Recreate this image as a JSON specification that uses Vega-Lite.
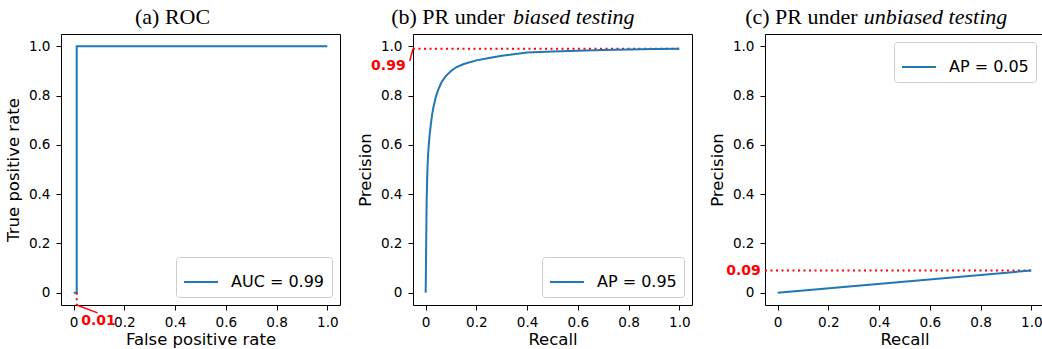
{
 "$schema": "https://vega.github.io/schema/vega-lite/v6.json",
 "padding": {"left": 4, "top": 5, "right": 0, "bottom": 0},
 "background": "white",
 "datasets": {
  "roc": [
   {"fpr": 0, "tpr": 0, "series": "AUC = 0.99"},
   {"fpr": 0.012, "tpr": 0, "series": "AUC = 0.99"},
   {"fpr": 0.012, "tpr": 1, "series": "AUC = 0.99"},
   {"fpr": 1, "tpr": 1, "series": "AUC = 0.99"}
  ],
  "prb": [
   {"recall": 0, "precision": 0, "series": "AP = 0.95"},
   {"recall": 0.001, "precision": 0.1, "series": "AP = 0.95"},
   {"recall": 0.002, "precision": 0.2, "series": "AP = 0.95"},
   {"recall": 0.003, "precision": 0.3, "series": "AP = 0.95"},
   {"recall": 0.004, "precision": 0.38, "series": "AP = 0.95"},
   {"recall": 0.006, "precision": 0.47, "series": "AP = 0.95"},
   {"recall": 0.008, "precision": 0.53, "series": "AP = 0.95"},
   {"recall": 0.01, "precision": 0.57, "series": "AP = 0.95"},
   {"recall": 0.013, "precision": 0.61, "series": "AP = 0.95"},
   {"recall": 0.016, "precision": 0.645, "series": "AP = 0.95"},
   {"recall": 0.02, "precision": 0.68, "series": "AP = 0.95"},
   {"recall": 0.025, "precision": 0.72, "series": "AP = 0.95"},
   {"recall": 0.03, "precision": 0.75, "series": "AP = 0.95"},
   {"recall": 0.04, "precision": 0.795, "series": "AP = 0.95"},
   {"recall": 0.05, "precision": 0.825, "series": "AP = 0.95"},
   {"recall": 0.063, "precision": 0.855, "series": "AP = 0.95"},
   {"recall": 0.08, "precision": 0.88, "series": "AP = 0.95"},
   {"recall": 0.1, "precision": 0.9, "series": "AP = 0.95"},
   {"recall": 0.12, "precision": 0.915, "series": "AP = 0.95"},
   {"recall": 0.15, "precision": 0.928, "series": "AP = 0.95"},
   {"recall": 0.2, "precision": 0.943, "series": "AP = 0.95"},
   {"recall": 0.25, "precision": 0.953, "series": "AP = 0.95"},
   {"recall": 0.3, "precision": 0.962, "series": "AP = 0.95"},
   {"recall": 0.4, "precision": 0.975, "series": "AP = 0.95"},
   {"recall": 0.5, "precision": 0.979, "series": "AP = 0.95"},
   {"recall": 0.6, "precision": 0.982, "series": "AP = 0.95"},
   {"recall": 0.7, "precision": 0.985, "series": "AP = 0.95"},
   {"recall": 0.8, "precision": 0.987, "series": "AP = 0.95"},
   {"recall": 0.9, "precision": 0.989, "series": "AP = 0.95"},
   {"recall": 1.0, "precision": 0.99, "series": "AP = 0.95"}
  ],
  "pru": [
   {"recall": 0, "precision": 0, "series": "AP = 0.05"},
   {"recall": 1, "precision": 0.09, "series": "AP = 0.05"}
  ]
 },
 "spacing": 73,
 "bounds": "flush",
 "resolve": {"scale": {"color": "independent"}, "legend": {"color": "independent"}},
 "hconcat": [
  {
   "width": 279, "height": 271,
   "layer": [
    {
     "data": {"name": "roc"},
     "mark": {"type": "line", "strokeWidth": 2},
     "encoding": {
      "x": {"field": "fpr", "type": "quantitative", "title": "False positive rate", "scale": {"domain": [-0.05, 1.05], "nice": false, "zero": false}, "axis": {"values": [0, 0.2, 0.4, 0.6, 0.8, 1], "labelExpr": "datum.value == 0 ? '0' : format(datum.value, '.1f')"}},
      "y": {"field": "tpr", "type": "quantitative", "title": "True positive rate", "scale": {"domain": [-0.05, 1.05], "nice": false, "zero": false}, "axis": {"values": [0, 0.2, 0.4, 0.6, 0.8, 1], "labelExpr": "datum.value == 0 ? '0' : format(datum.value, '.1f')"}},
      "color": {"field": "series", "type": "nominal", "scale": {"range": ["#1f77b4"]}, "legend": {"title": null, "orient": "bottom-right"}},
      "order": {"value": null}
     }
    },
    {
     "data": {"values": [{}]},
     "mark": {"type": "rule", "color": "#ff0000", "strokeWidth": 2, "strokeDash": [2, 3.5]},
     "encoding": {
      "x": {"datum": 0.012, "type": "quantitative", "title": "False positive rate", "scale": {"domain": [-0.05, 1.05], "nice": false, "zero": false}},
      "y": {"datum": 0, "type": "quantitative", "title": "True positive rate", "scale": {"domain": [-0.05, 1.05], "nice": false, "zero": false}},
      "y2": {"datum": -0.05}
     }
    },
    {
     "data": {"values": [{}]},
     "mark": {"type": "rule", "color": "#ff0000", "strokeWidth": 1.5},
     "encoding": {
      "x": {"datum": 0.012, "type": "quantitative", "title": "False positive rate", "scale": {"domain": [-0.05, 1.05], "nice": false, "zero": false}},
      "y": {"datum": -0.05, "type": "quantitative", "title": "True positive rate", "scale": {"domain": [-0.05, 1.05], "nice": false, "zero": false}},
      "x2": {"datum": 0.094},
      "y2": {"datum": -0.082}
     }
    },
    {
     "data": {"values": [{}]},
     "mark": {"type": "text", "text": "0.01", "color": "#ff0000", "font": "DejaVu Sans", "fontWeight": "bold", "fontSize": 14, "align": "left", "baseline": "middle"},
     "encoding": {
      "x": {"datum": 0.03, "type": "quantitative", "title": "False positive rate", "scale": {"domain": [-0.05, 1.05], "nice": false, "zero": false}},
      "y": {"datum": -0.115, "type": "quantitative", "title": "True positive rate", "scale": {"domain": [-0.05, 1.05], "nice": false, "zero": false}}
     }
    },
    {
     "data": {"values": [{}]},
     "mark": {"type": "text", "text": "(a) ROC", "color": "#000", "font": "Liberation Serif", "fontSize": 22, "align": "center", "baseline": "alphabetic"},
     "encoding": {
      "x": {"datum": 0.39, "type": "quantitative", "title": "False positive rate", "scale": {"domain": [-0.05, 1.05], "nice": false, "zero": false}},
      "y": {"datum": 1.089, "type": "quantitative", "title": "True positive rate", "scale": {"domain": [-0.05, 1.05], "nice": false, "zero": false}}
     }
    }
   ]
  },
  {
   "width": 279, "height": 271,
   "layer": [
    {
     "data": {"values": [{}]},
     "mark": {"type": "rule", "color": "#ff0000", "strokeWidth": 2, "strokeDash": [2, 3.5]},
     "encoding": {
      "x": {"datum": -0.05, "type": "quantitative", "title": "Recall", "scale": {"domain": [-0.05, 1.05], "nice": false, "zero": false}},
      "x2": {"datum": 1.0},
      "y": {"datum": 0.99, "type": "quantitative", "title": "Precision", "scale": {"domain": [-0.05, 1.05], "nice": false, "zero": false}}
     }
    },
    {
     "data": {"name": "prb"},
     "mark": {"type": "line", "strokeWidth": 2},
     "encoding": {
      "x": {"field": "recall", "type": "quantitative", "title": "Recall", "scale": {"domain": [-0.05, 1.05], "nice": false, "zero": false}, "axis": {"values": [0, 0.2, 0.4, 0.6, 0.8, 1], "labelExpr": "datum.value == 0 ? '0' : format(datum.value, '.1f')"}},
      "y": {"field": "precision", "type": "quantitative", "title": "Precision", "scale": {"domain": [-0.05, 1.05], "nice": false, "zero": false}, "axis": {"values": [0, 0.2, 0.4, 0.6, 0.8, 1], "labelExpr": "datum.value == 0 ? '0' : format(datum.value, '.1f')"}},
      "color": {"field": "series", "type": "nominal", "scale": {"range": ["#1f77b4"]}, "legend": {"title": null, "orient": "bottom-right"}},
      "order": {"value": null}
     }
    },
    {
     "data": {"values": [{}]},
     "mark": {"type": "rule", "color": "#ff0000", "strokeWidth": 1.5},
     "encoding": {
      "x": {"datum": -0.05, "type": "quantitative", "title": "Recall", "scale": {"domain": [-0.05, 1.05], "nice": false, "zero": false}},
      "y": {"datum": 0.99, "type": "quantitative", "title": "Precision", "scale": {"domain": [-0.05, 1.05], "nice": false, "zero": false}},
      "x2": {"datum": -0.063},
      "y2": {"datum": 0.94}
     }
    },
    {
     "data": {"values": [{}]},
     "mark": {"type": "text", "text": "0.99", "color": "#ff0000", "font": "DejaVu Sans", "fontWeight": "bold", "fontSize": 14, "align": "right", "baseline": "middle"},
     "encoding": {
      "x": {"datum": -0.079, "type": "quantitative", "title": "Recall", "scale": {"domain": [-0.05, 1.05], "nice": false, "zero": false}},
      "y": {"datum": 0.919, "type": "quantitative", "title": "Precision", "scale": {"domain": [-0.05, 1.05], "nice": false, "zero": false}}
     }
    },
    {
     "data": {"values": [{}]},
     "mark": {"type": "text", "text": "(b) PR under", "color": "#000", "font": "Liberation Serif", "fontSize": 22, "align": "right", "baseline": "alphabetic"},
     "encoding": {
      "x": {"datum": 0.312, "type": "quantitative", "title": "Recall", "scale": {"domain": [-0.05, 1.05], "nice": false, "zero": false}},
      "y": {"datum": 1.089, "type": "quantitative", "title": "Precision", "scale": {"domain": [-0.05, 1.05], "nice": false, "zero": false}}
     }
    },
    {
     "data": {"values": [{}]},
     "mark": {"type": "text", "text": "biased testing", "color": "#000", "font": "Liberation Serif", "fontStyle": "italic", "fontSize": 22, "align": "left", "baseline": "alphabetic"},
     "encoding": {
      "x": {"datum": 0.344, "type": "quantitative", "title": "Recall", "scale": {"domain": [-0.05, 1.05], "nice": false, "zero": false}},
      "y": {"datum": 1.089, "type": "quantitative", "title": "Precision", "scale": {"domain": [-0.05, 1.05], "nice": false, "zero": false}}
     }
    }
   ]
  },
  {
   "width": 279, "height": 271,
   "layer": [
    {
     "data": {"values": [{}]},
     "mark": {"type": "rule", "color": "#ff0000", "strokeWidth": 2, "strokeDash": [2, 3.5]},
     "encoding": {
      "x": {"datum": -0.05, "type": "quantitative", "title": "Recall", "scale": {"domain": [-0.05, 1.05], "nice": false, "zero": false}},
      "x2": {"datum": 1.0},
      "y": {"datum": 0.09, "type": "quantitative", "title": "Precision", "scale": {"domain": [-0.05, 1.05], "nice": false, "zero": false}}
     }
    },
    {
     "data": {"name": "pru"},
     "mark": {"type": "line", "strokeWidth": 2},
     "encoding": {
      "x": {"field": "recall", "type": "quantitative", "title": "Recall", "scale": {"domain": [-0.05, 1.05], "nice": false, "zero": false}, "axis": {"values": [0, 0.2, 0.4, 0.6, 0.8, 1], "labelExpr": "datum.value == 0 ? '0' : format(datum.value, '.1f')"}},
      "y": {"field": "precision", "type": "quantitative", "title": "Precision", "scale": {"domain": [-0.05, 1.05], "nice": false, "zero": false}, "axis": {"values": [0, 0.2, 0.4, 0.6, 0.8, 1], "labelExpr": "datum.value == 0 ? '0' : format(datum.value, '.1f')"}},
      "color": {"field": "series", "type": "nominal", "scale": {"range": ["#1f77b4"]}, "legend": {"title": null, "orient": "top-right"}},
      "order": {"value": null}
     }
    },
    {
     "data": {"values": [{}]},
     "mark": {"type": "text", "text": "0.09", "color": "#ff0000", "font": "DejaVu Sans", "fontWeight": "bold", "fontSize": 14, "align": "right", "baseline": "middle"},
     "encoding": {
      "x": {"datum": -0.067, "type": "quantitative", "title": "Recall", "scale": {"domain": [-0.05, 1.05], "nice": false, "zero": false}},
      "y": {"datum": 0.09, "type": "quantitative", "title": "Precision", "scale": {"domain": [-0.05, 1.05], "nice": false, "zero": false}}
     }
    },
    {
     "data": {"values": [{}]},
     "mark": {"type": "text", "text": "(c) PR under", "color": "#000", "font": "Liberation Serif", "fontSize": 22, "align": "right", "baseline": "alphabetic"},
     "encoding": {
      "x": {"datum": 0.315, "type": "quantitative", "title": "Recall", "scale": {"domain": [-0.05, 1.05], "nice": false, "zero": false}},
      "y": {"datum": 1.089, "type": "quantitative", "title": "Precision", "scale": {"domain": [-0.05, 1.05], "nice": false, "zero": false}}
     }
    },
    {
     "data": {"values": [{}]},
     "mark": {"type": "text", "text": "unbiased testing", "color": "#000", "font": "Liberation Serif", "fontStyle": "italic", "fontSize": 22, "align": "left", "baseline": "alphabetic"},
     "encoding": {
      "x": {"datum": 0.339, "type": "quantitative", "title": "Recall", "scale": {"domain": [-0.05, 1.05], "nice": false, "zero": false}},
      "y": {"datum": 1.089, "type": "quantitative", "title": "Precision", "scale": {"domain": [-0.05, 1.05], "nice": false, "zero": false}}
     }
    }
   ]
  }
 ],
 "config": {
  "font": "DejaVu Sans",
  "view": {"stroke": "#000", "strokeWidth": 1, "fill": "white"},
  "axis": {"domain": false, "grid": false, "ticks": true, "tickColor": "#000", "tickSize": 5, "tickWidth": 1, "labelFont": "DejaVu Sans", "labelFontSize": 13.6, "labelColor": "#000", "labelFlush": false, "labelOverlap": false, "titleFont": "DejaVu Sans", "titleFontSize": 16.5, "titleFontWeight": "normal", "titleColor": "#000"},
  "axisX": {"labelPadding": 5, "titlePadding": 3},
  "axisY": {"labelPadding": 6, "titlePadding": 7},
  "legend": {"offset": 8, "strokeColor": "#cccccc", "strokeWidth": 1, "fillColor": "white", "cornerRadius": 3, "padding": 7, "symbolType": "stroke", "symbolSize": 1156, "symbolStrokeWidth": 2, "labelFont": "DejaVu Sans", "labelFontSize": 16, "labelColor": "#000", "labelOffset": 12, "labelLimit": 300}
 }
}
